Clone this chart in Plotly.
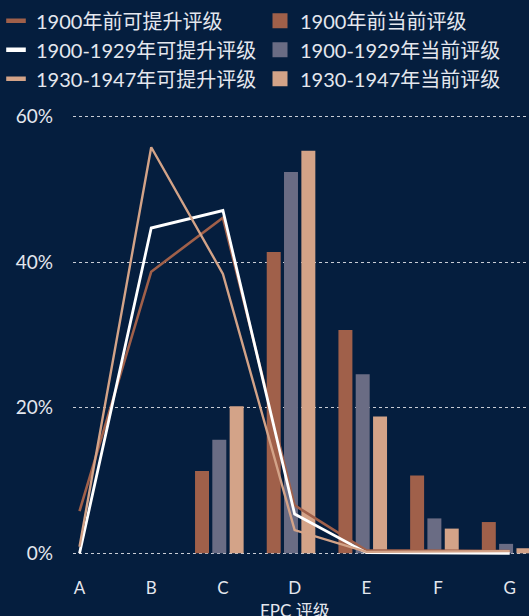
import plotly.graph_objects as go

# EPC rating categories
categories = ["A", "B", "C", "D", "E", "F", "G"]
positions = list(range(len(categories)))

# Share of dwellings that could reach each rating (%), by construction period
potential_pre1900 = [5.8, 38.7, 46.1, 6.6, 0.4, 0.3, 0.3]
potential_1900_1929 = [0.0, 44.7, 47.1, 5.4, 0.1, 0.0, 0.0]
potential_1930_1947 = [0.9, 55.8, 38.4, 3.2, 0.2, 0.3, 0.3]

# Share of dwellings at each current rating (%), by construction period
current_pre1900 = [0.0, 0.0, 11.3, 41.4, 30.7, 10.7, 4.3]
current_1900_1929 = [0.0, 0.0, 15.6, 52.4, 24.6, 4.8, 1.3]
current_1930_1947 = [0.0, 0.0, 20.2, 55.3, 18.8, 3.4, 0.7]

y_ticks = [0, 20, 40, 60]

BG = "#051E3E"
TEXT = "#E4E7EE"
BROWN = "#A0604A"
SLATE = "#6A6C84"
SAND = "#D3A388"
WHITE = "#FFFFFF"
FONT = "Lato, 'Noto Sans CJK SC', sans-serif"

fig = go.Figure()

bar_width = 0.195
bar_specs = [
    ("1900年前当前评级", current_pre1900, BROWN, -0.389),
    ("1900-1929年当前评级", current_1900_1929, SLATE, -0.148),
    ("1930-1947年当前评级", current_1930_1947, SAND, 0.094),
]
for name, vals, color, off in bar_specs:
    fig.add_trace(go.Bar(
        x=positions, y=vals, name=name, width=bar_width, offset=off,
        marker=dict(color=color, line=dict(width=0)),
        showlegend=False, hoverinfo="skip",
    ))

line_specs = [
    ("1900年前可提升评级", potential_pre1900, BROWN, 2.6),
    ("1900-1929年可提升评级", potential_1900_1929, WHITE, 2.8),
    ("1930-1947年可提升评级", potential_1930_1947, SAND, 2.4),
]
for name, vals, color, w in line_specs:
    fig.add_trace(go.Scatter(
        x=positions, y=vals, name=name, mode="lines",
        line=dict(color=color, width=w),
        showlegend=False, hoverinfo="skip", cliponaxis=False,
    ))

# Legend entries: short bars for the lines (left column),
# squares for the columns (right column)
for name, _, color, _ in line_specs:
    fig.add_trace(go.Scatter(
        x=[None], y=[None], name=name, mode="markers", legend="legend",
        marker=dict(symbol="line-ew", size=14, color=color,
                    line=dict(color=color, width=4.5)),
        showlegend=True, hoverinfo="skip",
    ))
for name, _, color, _ in bar_specs:
    fig.add_trace(go.Scatter(
        x=[None], y=[None], name=name, mode="markers", legend="legend2",
        marker=dict(symbol="square", size=15, color=color,
                    line=dict(width=0)),
        showlegend=True, hoverinfo="skip",
    ))

fig.add_annotation(
    text="EPC 评级", x=3, xref="x", y=-0.087, yref="paper",
    xanchor="center", yanchor="middle", showarrow=False,
    font=dict(size=17, color=TEXT, family=FONT),
)

legend_common = dict(
    orientation="v", xref="container", yref="container",
    y=0.998, xanchor="left", yanchor="top",
    font=dict(size=20, color=TEXT, family=FONT),
    bgcolor="rgba(0,0,0,0)", traceorder="normal",
)

fig.update_layout(
    width=529, height=616,
    margin=dict(l=73, r=0, t=100, b=46, autoexpand=False),
    paper_bgcolor=BG, plot_bgcolor=BG,
    font=dict(family=FONT, color=TEXT, size=17),
    barmode="overlay",
    legend=dict(x=0.0, indentation=-4, **legend_common),
    legend2=dict(x=0.4915, **legend_common),
    xaxis=dict(
        range=[-0.091, 6.269], tickvals=positions, ticktext=categories,
        showgrid=False, zeroline=False, showline=False, ticks="",
        ticklabelstandoff=6, tickfont=dict(size=17, color=TEXT),
        fixedrange=True,
    ),
    yaxis=dict(
        range=[-2.29, 62.29], tickvals=y_ticks,
        ticktext=[f"{v}%" for v in y_ticks],
        showgrid=True, gridcolor="#C9CDD6", gridwidth=1, griddash="dot",
        zeroline=False, showline=False, ticks="",
        ticklabelstandoff=19, tickfont=dict(size=19, color=TEXT),
        fixedrange=True,
    ),
)

fig.write_html("out.html")
